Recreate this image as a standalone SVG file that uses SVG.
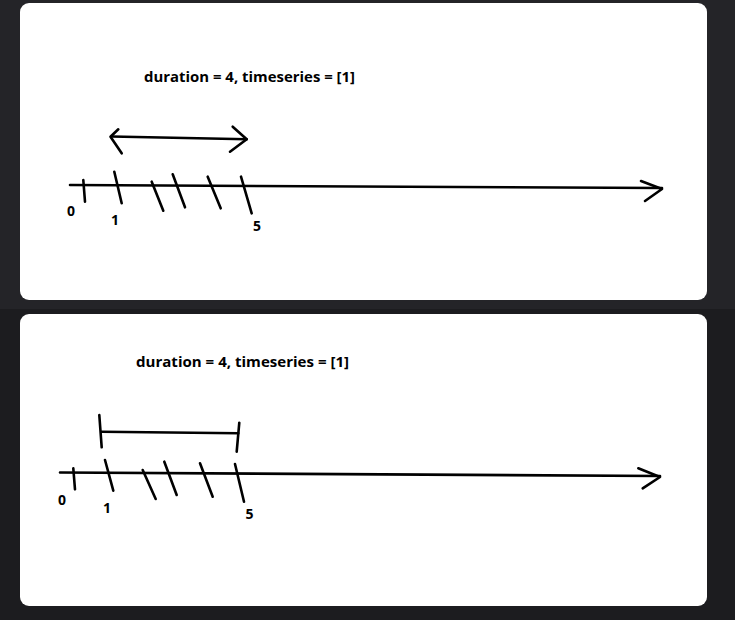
<svg xmlns="http://www.w3.org/2000/svg" width="735" height="620" viewBox="0 0 735 620">
<style>
.card{fill:#ffffff}
.ink{stroke:#000;stroke-width:2.6;fill:none;stroke-linecap:round;stroke-linejoin:round}
.title{font-family:"Open Sans","Liberation Sans",sans-serif;font-weight:bold;font-size:15px;fill:#000}
.num{font-family:"Open Sans","Liberation Sans",sans-serif;font-weight:bold;font-size:14px;fill:#000}
</style>
<rect x="0" y="0" width="735" height="309" fill="#242428"/>
<rect x="0" y="309" width="735" height="311" fill="#1c1c1f"/>
<g id="panel-top">
<rect class="card" x="20" y="3" width="687" height="297" rx="9"/>
<text class="title" x="144" y="82" textLength="211" lengthAdjust="spacingAndGlyphs">duration = 4, timeseries = [1]</text>
</g>
<g id="panel-bottom">
<rect class="card" x="20" y="314" width="687" height="292" rx="9"/>
<text class="title" x="136" y="367" textLength="213" lengthAdjust="spacingAndGlyphs">duration = 4, timeseries = [1]</text>
</g>
<g id="axis-top">
<path class="ink" d="M70 185 L662 188"/>
<path class="ink" d="M641 181 L662 189 L645 201"/>
<path class="ink" d="M83.3 180 L85 201.7 M114.3 171.7 L121.7 203.3 M151.7 181.7 L163.3 210.7 M172.7 174.3 L185 207.3 M207.7 176.7 L220.7 208.3 M241 176.7 L251.7 213.3"/>
<text class="num" x="71" y="216" text-anchor="middle">0</text>
<text class="num" x="115" y="225" text-anchor="middle">1</text>
<text class="num" x="257" y="231" text-anchor="middle">5</text>
</g>
<g id="span-top">
<path class="ink" d="M111.7 136.5 L246.7 139.3"/>
<path class="ink" d="M118.3 129.3 L110.5 136.7 L121.7 153.3"/>
<path class="ink" d="M232.7 126.7 L246.7 139.3 L230 151.7"/>
</g>
<g id="axis-bottom">
<path class="ink" d="M60 472.5 L660 476"/>
<path class="ink" d="M638.3 468.3 L660 477 L642.7 488.3"/>
<path class="ink" d="M73.3 468.3 L75 489.3 M105 460 L113.3 490.7 M142.7 470 L155.7 499 M164.3 461.7 L176.7 495 M200 463.3 L212.7 496.7 M235 464 L244 501.7"/>
<text class="num" x="62" y="504.5" text-anchor="middle">0</text>
<text class="num" x="107" y="513" text-anchor="middle">1</text>
<text class="num" x="249.5" y="519" text-anchor="middle">5</text>
</g>
<g id="span-bottom">
<path class="ink" d="M101.7 431.7 L238.3 433.3"/>
<path class="ink" d="M99.3 415 L101.7 447.3"/>
<path class="ink" d="M239.3 422.7 L236.7 451.7"/>
</g>
</svg>
